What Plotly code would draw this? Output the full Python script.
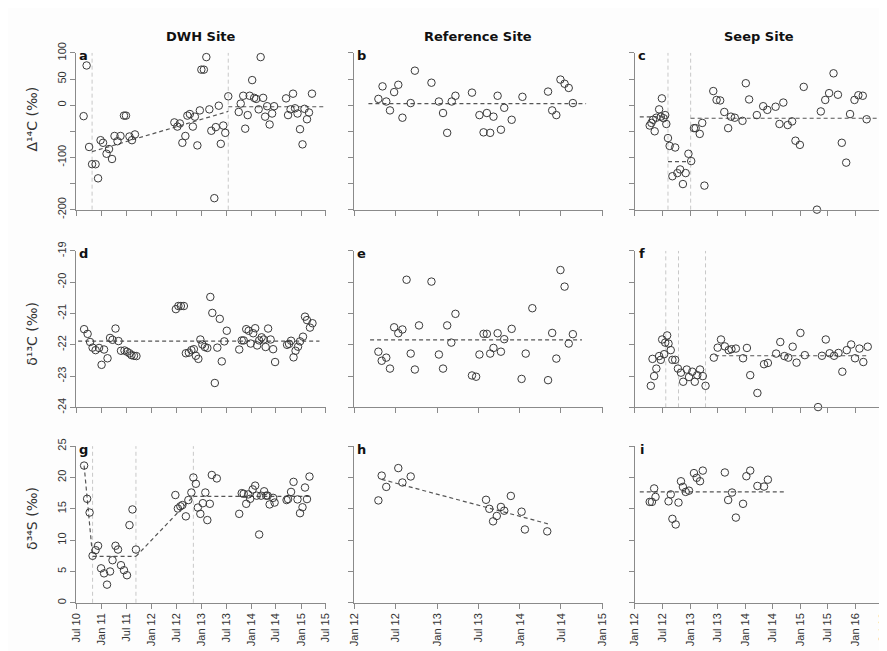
import plotly.graph_objects as go
from plotly.subplots import make_subplots
from datetime import datetime

# ---------------- data (decimal years, values) ----------------
# DWH site
dwh_c14_t = [2010.64, 2010.70, 2010.75, 2010.81, 2010.88, 2010.93, 2010.98, 2011.03, 2011.10, 2011.15,
             2011.21, 2011.26, 2011.32, 2011.38, 2011.45, 2011.49, 2011.56, 2011.61, 2011.67,
             2012.46, 2012.52, 2012.57, 2012.62, 2012.68, 2012.72, 2012.77, 2012.83, 2012.87, 2012.92,
             2012.97, 2013.00, 2013.05, 2013.10, 2013.16, 2013.20, 2013.26, 2013.29, 2013.35, 2013.39,
             2013.44, 2013.48, 2013.54,
             2013.75, 2013.79, 2013.84, 2013.88, 2013.93, 2013.97, 2014.02, 2014.06, 2014.10, 2014.15,
             2014.19, 2014.24, 2014.28, 2014.32, 2014.37, 2014.42, 2014.46,
             2014.70, 2014.74, 2014.79, 2014.84, 2014.88, 2014.93, 2014.98, 2015.03, 2015.07, 2015.12,
             2015.16, 2015.22]
dwh_c14_v = [-21, 76, -80, -113, -113, -140, -67, -72, -93, -84,
             -103, -59, -69, -59, -20, -20, -60, -67, -56,
             -33, -41, -35, -72, -59, -20, -17, -41, -22, -77,
             -10, 68, 68, 92, -8, -49, -178, -42, -1, -74,
             -39, -53, 17,
             -13, 3, 18, -45, -19, 18, 48, 14, 12, -8,
             92, 14, -22, -2, -37, -16, -2,
             13, -19, -8, 22, -6, -16, -46, -75, -7, -27,
             -14, 22]

dwh_c13_t = [2010.65, 2010.72, 2010.77, 2010.82, 2010.88, 2010.95, 2011.00, 2011.05, 2011.12, 2011.17,
             2011.22, 2011.28, 2011.34, 2011.39, 2011.46, 2011.51, 2011.56, 2011.60, 2011.65, 2011.70,
             2012.49, 2012.54, 2012.59, 2012.65, 2012.69, 2012.75, 2012.80, 2012.85, 2012.89, 2012.94,
             2012.98, 2013.02, 2013.07, 2013.12, 2013.18, 2013.22, 2013.27, 2013.32, 2013.37, 2013.41,
             2013.46, 2013.51,
             2013.76, 2013.81, 2013.85, 2013.90, 2013.95, 2013.99, 2014.04, 2014.08, 2014.12, 2014.16,
             2014.21, 2014.25, 2014.29, 2014.34, 2014.39, 2014.44, 2014.48,
             2014.72, 2014.76, 2014.80, 2014.85, 2014.89, 2014.94, 2014.98, 2015.04, 2015.08, 2015.12,
             2015.18, 2015.23]
dwh_c13_v = [-21.50, -21.65, -21.91, -22.09, -22.17, -22.10, -22.64, -22.15, -22.43, -21.78,
             -21.84, -21.48, -21.88, -22.19, -22.18, -22.22, -22.27, -22.33, -22.35, -22.36,
             -20.86, -20.76, -20.76, -20.76, -22.27, -22.25, -22.17, -22.14, -22.35, -22.45,
             -21.83, -21.99, -22.07, -22.10, -20.47, -20.98, -23.22, -22.09, -21.17, -22.53,
             -21.89, -21.55,
             -22.15, -21.86, -21.86, -21.50, -21.55, -21.96, -21.63, -21.47, -22.02, -21.86,
             -21.76, -21.83, -22.07, -21.48, -21.83, -22.14, -22.55,
             -22.00, -21.97, -21.87, -22.40, -22.19, -22.06, -21.89, -21.74, -21.10, -21.21,
             -21.45, -21.31]

dwh_s34_t = [2010.65, 2010.71, 2010.76, 2010.82, 2010.88, 2010.93, 2010.99, 2011.05, 2011.11, 2011.17,
             2011.22, 2011.28, 2011.33, 2011.39, 2011.45, 2011.51, 2011.56, 2011.62, 2011.69,
             2012.48, 2012.53, 2012.58, 2012.62, 2012.69, 2012.74, 2012.80, 2012.84, 2012.89, 2012.93,
             2012.98, 2013.03, 2013.08, 2013.12, 2013.17, 2013.21, 2013.31,
             2013.76, 2013.81, 2013.85, 2013.90, 2013.94, 2013.98, 2014.03, 2014.08, 2014.11, 2014.16,
             2014.20, 2014.26, 2014.30, 2014.33, 2014.37, 2014.44, 2014.47,
             2014.71, 2014.74, 2014.80, 2014.85, 2014.93, 2014.98, 2015.03, 2015.08, 2015.12, 2015.17]
dwh_s34_v = [21.9, 16.6, 14.4, 7.5, 8.4, 9.1, 5.5, 4.7, 2.9, 5.0,
             6.8, 9.1, 8.5, 6.0, 5.2, 4.4, 12.4, 14.9, 8.5,
             17.2, 15.05, 15.4, 15.6, 13.8, 16.4, 17.6, 20.0, 19.0, 15.2,
             14.2, 15.9, 17.6, 13.2, 15.8, 20.4, 19.85,
             14.2, 17.5, 17.4, 15.8, 17.3, 16.6, 18.1, 18.7, 17.1, 10.9,
             17.1, 17.8, 17.1, 17.1, 15.7, 16.75, 16.0,
             16.4, 16.55, 17.7, 19.3, 16.5, 14.3, 15.25, 18.4, 16.55, 20.15]

# Reference site
ref_c14_t = [2012.29, 2012.34, 2012.385, 2012.43, 2012.48, 2012.53, 2012.58, 2012.68, 2012.73, 2012.93,
             2013.02, 2013.07, 2013.12, 2013.175, 2013.22, 2013.42, 2013.51, 2013.56, 2013.60, 2013.64,
             2013.68, 2013.73, 2013.77, 2013.81, 2013.90, 2014.03, 2014.34, 2014.39, 2014.44, 2014.49,
             2014.54, 2014.59, 2014.64]
ref_c14_v = [12, 36, 7, -10, 25, 39, -24, 4, 66, 43,
             7, -15, -53, 7, 18, 24, -19, -52, -15, -53,
             -22, 18, -47, -5, -28, 16, 26, -10, -19, 49,
             41, 33, 4]

ref_c13_t = [2012.29, 2012.33, 2012.385, 2012.43, 2012.48, 2012.53, 2012.58, 2012.63, 2012.68, 2012.73,
             2012.78, 2012.93, 2013.02, 2013.07, 2013.12, 2013.17, 2013.22, 2013.42, 2013.47, 2013.51,
             2013.56, 2013.60, 2013.64, 2013.68, 2013.73, 2013.77, 2013.81, 2013.90, 2014.02, 2014.07,
             2014.15, 2014.34, 2014.39, 2014.44, 2014.49, 2014.54, 2014.59, 2014.64]
ref_c13_v = [-22.22, -22.51, -22.41, -22.76, -21.44, -21.63, -21.51, -19.92, -22.28, -22.79,
             -21.38, -19.98, -22.31, -22.76, -21.38, -21.93, -21.01, -22.98, -23.02, -22.31,
             -21.65, -21.65, -22.28, -22.10, -21.63, -22.22, -21.82, -21.49, -23.09, -22.28,
             -20.83, -23.13, -21.62, -22.44, -19.61, -20.14, -21.96, -21.66]

ref_s34_t = [2012.29, 2012.33, 2012.385, 2012.53, 2012.58, 2012.68, 2013.59, 2013.63, 2013.675, 2013.72,
             2013.77, 2013.81, 2013.89, 2014.02, 2014.06, 2014.33]
ref_s34_v = [16.34, 20.3, 18.5, 21.5, 19.2, 20.16, 16.44, 15.0, 13.0, 13.86,
             15.3, 14.7, 17.06, 14.54, 11.7, 11.4]

# Seep site
seep_c14_t = [2012.27, 2012.30, 2012.33, 2012.36, 2012.39, 2012.44, 2012.47, 2012.49, 2012.52, 2012.55,
              2012.57, 2012.60, 2012.63, 2012.68, 2012.73, 2012.77, 2012.82, 2012.87, 2012.92, 2012.97,
              2013.02, 2013.07, 2013.10, 2013.175, 2013.22, 2013.26, 2013.42, 2013.48, 2013.545, 2013.62,
              2013.69, 2013.74, 2013.81, 2013.95, 2014.01, 2014.07, 2014.21, 2014.325, 2014.40, 2014.55,
              2014.62, 2014.69, 2014.77, 2014.85, 2014.91, 2014.99, 2015.06, 2015.30, 2015.37, 2015.45,
              2015.52, 2015.60, 2015.68, 2015.75, 2015.83, 2015.90, 2015.98, 2016.05, 2016.13, 2016.20]
seep_c14_v = [-39, -34, -28, -50, -24, -8, -22, 13, -25, -19,
              -36, -63, -78, -136, -81, -130, -123, -151, -130, -93,
              -107, -44, -44, -55, -34, -154, 27, 10, 9, -13,
              -44, -22, -24, -30, 42, 11, -19, -2, -9, -3,
              -36, 5, -38, -31, -68, -76, 35, -200, -12, 10,
              23, 61, 20, -72, -110, -17, 10, 19, 18, -27]

seep_c13_t = [2012.29, 2012.32, 2012.35, 2012.39, 2012.44, 2012.47, 2012.495, 2012.53, 2012.55, 2012.585,
              2012.61, 2012.65, 2012.68, 2012.73, 2012.78, 2012.835, 2012.875, 2012.94, 2012.98, 2013.04,
              2013.085, 2013.13, 2013.18, 2013.23, 2013.28, 2013.43, 2013.50, 2013.56, 2013.63, 2013.70,
              2013.75, 2013.83, 2013.96, 2014.03, 2014.09, 2014.22, 2014.34, 2014.41, 2014.56, 2014.635,
              2014.71, 2014.78, 2014.86, 2014.93, 2015.00, 2015.08, 2015.32, 2015.39, 2015.46, 2015.53,
              2015.61, 2015.69, 2015.76, 2015.84, 2015.92, 2015.99, 2016.07, 2016.14, 2016.22]
seep_c13_v = [-23.31, -22.45, -23.00, -22.76, -22.36, -22.48, -21.83, -22.30, -21.93, -21.70,
              -21.96, -22.17, -22.48, -22.48, -22.76, -22.89, -23.18, -22.79, -23.03, -22.86,
              -23.18, -22.97, -22.79, -23.00, -23.31, -22.41, -22.09, -21.83, -22.05, -22.17,
              -22.14, -22.12, -22.43, -22.10, -22.97, -23.54, -22.62, -22.58, -22.28, -21.91,
              -22.36, -22.41, -22.06, -22.57, -21.62, -22.33, -23.99, -22.35, -21.83, -22.27,
              -22.35, -22.26, -22.86, -22.17, -21.99, -22.43, -22.12, -22.55, -22.06]

seep_s34_t = [2012.27, 2012.31, 2012.35, 2012.375, 2012.61, 2012.65, 2012.68, 2012.74, 2012.79, 2012.835,
              2012.87, 2012.92, 2012.98, 2013.07, 2013.12, 2013.18, 2013.23, 2013.63, 2013.69, 2013.76,
              2013.83, 2013.96, 2014.02, 2014.09, 2014.22, 2014.34, 2014.41]
seep_s34_v = [16.1, 16.1, 18.25, 16.9, 16.2, 17.3, 13.4, 12.5, 16.0, 19.4,
              18.5, 17.7, 17.9, 20.7, 19.95, 19.4, 21.1, 20.8, 16.4, 17.6,
              13.6, 15.8, 20.2, 21.1, 18.65, 18.55, 19.65]

# fitted trend segments: list of (t0, v0, t1, v1)
trend_a = [(2010.81, -89, 2013.54, -12), (2013.54, -3, 2015.55, -3)]
trend_b = [(2012.17, 3, 2014.80, 3)]
trend_c = [(2012.09, -22.4, 2012.60, -22.4), (2012.60, -108, 2013.01, -108), (2013.01, -25, 2016.6, -25)]
trend_d = [(2010.53, -21.88, 2015.37, -21.88)]
trend_e = [(2012.19, -21.84, 2014.75, -21.84)]
trend_f = [(2013.455, -22.35, 2016.22, -22.35)]
trend_g = [(2010.65, 21.9, 2010.82, 7.4), (2010.82, 7.4, 2011.69, 7.4),
           (2011.69, 7.4, 2012.84, 17.0), (2012.84, 17.0, 2015.20, 17.0)]
trend_h = [(2012.33, 19.7, 2014.34, 12.6)]
trend_i = [(2012.09, 17.7, 2014.74, 17.7)]

# change-point (vertical) lines
vlines_a = [2010.81, 2013.54]
vlines_c = [2012.60, 2013.01]
vlines_f = [2012.56, 2012.79, 2013.28]
vlines_g = [2010.82, 2011.69, 2012.84]

# tick labels
dwh_ticks = ["Jul 10", "Jan 11", "Jul 11", "Jan 12", "Jul 12", "Jan 13", "Jul 13", "Jan 14", "Jul 14", "Jan 15", "Jul 15"]
ref_ticks = ["Jan 12", "Jul 12", "Jan 13", "Jul 13", "Jan 14", "Jul 14", "Jan 15"]
seep_ticks = ["Jan 12", "Jul 12", "Jan 13", "Jul 13", "Jan 14", "Jul 14", "Jan 15", "Jul 15", "Jan 16", "Jul 16"]
col_titles = ["DWH Site", "Reference Site", "Seep Site"]
row_titles = ["Δ¹⁴C (‰)", "δ¹³C (‰)", "δ³⁴S (‰)"]
panel_letters = ["a", "b", "c", "d", "e", "f", "g", "h", "i"]

# ---------------- helpers ----------------
def to_date(y):
    yr = int(y)
    d0 = datetime(yr, 1, 1)
    d1 = datetime(yr + 1, 1, 1)
    return d0 + (d1 - d0) * (y - yr)

def lab_to_date(s):
    m, yy = s.split()
    return datetime(2000 + int(yy), 1 if m == "Jan" else 7, 1)

W, H = 887, 651
col_px = [(63.3, 316.0), (345.0, 596.7), (629.3, 881.0)]
row_px = [(35.0, 196.7), (239.3, 400.7), (440.7, 602.3)]

fig = make_subplots(rows=3, cols=3)

MK = dict(symbol="circle-open", size=7.5, color="#3a3a3a", line=dict(width=1, color="#3a3a3a"))
TREND = dict(color="#555555", width=1.2, dash="4px,3px")
VL = dict(color="#c8c8c8", width=1, dash="4px,3px")

panels = [
    (1, 1, dwh_c14_t, dwh_c14_v, trend_a, vlines_a),
    (1, 2, ref_c14_t, ref_c14_v, trend_b, []),
    (1, 3, seep_c14_t, seep_c14_v, trend_c, vlines_c),
    (2, 1, dwh_c13_t, dwh_c13_v, trend_d, []),
    (2, 2, ref_c13_t, ref_c13_v, trend_e, []),
    (2, 3, seep_c13_t, seep_c13_v, trend_f, vlines_f),
    (3, 1, dwh_s34_t, dwh_s34_v, trend_g, vlines_g),
    (3, 2, ref_s34_t, ref_s34_v, trend_h, []),
    (3, 3, seep_s34_t, seep_s34_v, trend_i, []),
]

for (r, c, ts, vs, trend, vls) in panels:
    idx = (r - 1) * 3 + c
    for (t0, v0, t1, v1) in trend:
        fig.add_trace(go.Scatter(x=[to_date(t0), to_date(t1)], y=[v0, v1], mode="lines",
                                 line=TREND, hoverinfo="skip", showlegend=False), row=r, col=c)
    fig.add_trace(go.Scatter(x=[to_date(t) for t in ts], y=vs, mode="markers", marker=MK,
                             cliponaxis=False, showlegend=False), row=r, col=c)
    xref = "x" if idx == 1 else f"x{idx}"
    yref = "y domain" if idx == 1 else f"y{idx} domain"
    for vx in vls:
        fig.add_shape(type="line", xref=xref, yref=yref, x0=to_date(vx), x1=to_date(vx),
                      y0=0, y1=1, line=VL, layer="below")

tick_sets = [dwh_ticks, ref_ticks, seep_ticks]
y_ranges = [[-200, 100], [-24, -19], [0, 25]]
y_tickvals = [[-200, -150, -100, -50, 0, 50, 100], [-24, -23, -22, -21, -20, -19], [0, 5, 10, 15, 20, 25]]
y_ticktext = [["-200", "", "-100", "", "0", "50", "100"],
              ["-24", "-23", "-22", "-21", "-20", "-19"],
              ["0", "5", "10", "15", "20", "25"]]

AX = dict(showline=True, linecolor="#8a8a8a", linewidth=1, ticks="outside", ticklen=5,
          tickcolor="#8a8a8a", tickwidth=1, showgrid=False, zeroline=False,
          tickfont=dict(family="Liberation Sans, Arial", size=11, color="#333333"), tickangle=-90)

layout_upd = {}
for r in range(1, 4):
    for c in range(1, 4):
        idx = (r - 1) * 3 + c
        xn = "xaxis" if idx == 1 else f"xaxis{idx}"
        yn = "yaxis" if idx == 1 else f"yaxis{idx}"
        ticks = tick_sets[c - 1]
        x0p, x1p = col_px[c - 1]
        y0p, y1p = row_px[r - 1]
        layout_upd[xn] = dict(AX, domain=[x0p / W, x1p / W],
                              range=[lab_to_date(ticks[0]), lab_to_date(ticks[-1])],
                              tickvals=[lab_to_date(s) for s in ticks], ticktext=ticks,
                              showticklabels=(r == 3))
        layout_upd[yn] = dict(AX, domain=[1 - y1p / H, 1 - y0p / H], range=y_ranges[r - 1],
                              tickvals=y_tickvals[r - 1], ticktext=y_ticktext[r - 1],
                              showticklabels=(c == 1))
fig.update_layout(**layout_upd)

ann = []
for c, t in enumerate(col_titles):
    x0p, x1p = col_px[c]
    ann.append(dict(text=f"<b>{t}</b>", x=(x0p + x1p) / 2 / W, y=1 - 18 / H, xref="paper", yref="paper",
                    showarrow=False, xanchor="center", yanchor="middle",
                    font=dict(family="DejaVu Sans", size=13, color="#111111")))
row_lab_y = [103, 325, 515]
for r, t in enumerate(row_titles):
    ann.append(dict(text=t, x=18 / W, y=1 - row_lab_y[r] / H, xref="paper", yref="paper",
                    showarrow=False, textangle=-90, xanchor="center", yanchor="middle",
                    font=dict(family="DejaVu Sans", size=14, color="#333333")))
for k, L in enumerate(panel_letters):
    r, c = divmod(k, 3)
    x0p = col_px[c][0]
    y0p = row_px[r][0]
    ann.append(dict(text=f"<b>{L}</b>", x=(x0p + 7.5) / W, y=1 - (y0p + 3) / H, xref="paper", yref="paper",
                    showarrow=False, xanchor="center", yanchor="middle",
                    font=dict(family="DejaVu Sans", size=13, color="#111111")))

fig.update_layout(width=W, height=H, margin=dict(l=0, r=0, t=0, b=0),
                  paper_bgcolor="#fdfdfd", plot_bgcolor="#fdfdfd", showlegend=False,
                  annotations=ann)

fig.write_html("out.html")
